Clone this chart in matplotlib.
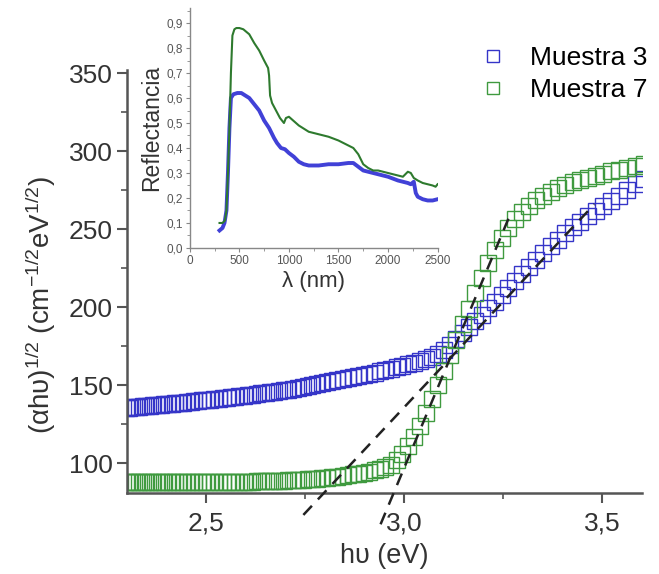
import numpy as np
import matplotlib
matplotlib.use("Agg")
import matplotlib.pyplot as plt
from matplotlib.ticker import MultipleLocator, FuncFormatter

plt.rcParams['font.family'] = ['Liberation Sans', 'DejaVu Sans']
plt.rcParams['mathtext.fontset'] = 'custom'
plt.rcParams['mathtext.rm'] = 'Liberation Sans'
plt.rcParams['mathtext.default'] = 'regular'

# photon energy (eV), one point per measured wavelength
hv = [2.296, 2.305, 2.313, 2.322, 2.331, 2.340, 2.348, 2.357, 2.366, 2.375,
      2.385, 2.394, 2.403, 2.412, 2.422, 2.431, 2.441, 2.451, 2.460, 2.470,
      2.480, 2.490, 2.500, 2.510, 2.520, 2.531, 2.541, 2.551, 2.562, 2.573,
      2.583, 2.594, 2.605, 2.616, 2.627, 2.638, 2.650, 2.661, 2.672, 2.684,
      2.696, 2.707, 2.719, 2.731, 2.743, 2.756, 2.768, 2.780, 2.793, 2.805,
      2.818, 2.831, 2.844, 2.857, 2.870, 2.884, 2.897, 2.911, 2.925, 2.938,
      2.952, 2.967, 2.981, 2.995, 3.010, 3.024, 3.039, 3.054, 3.069, 3.085,
      3.100, 3.116, 3.131, 3.147, 3.163, 3.179, 3.196, 3.212, 3.229, 3.246,
      3.263, 3.280, 3.298, 3.316, 3.333, 3.351, 3.370, 3.388, 3.407, 3.425,
      3.444, 3.464, 3.483, 3.503, 3.523, 3.543, 3.563, 3.584, 3.605]

muestra3 = [135.5, 135.8, 136.0, 136.2, 136.4, 136.6, 136.8, 137.0, 137.2, 137.4,
            137.6, 137.8, 138.0, 138.2, 138.5, 138.7, 139.0, 139.2, 139.5, 139.8,
            140.0, 140.3, 140.5, 140.8, 141.1, 141.4, 141.7, 142.0, 142.3, 142.7,
            143.0, 143.3, 143.7, 144.0, 144.4, 144.8, 145.2, 145.6, 146.0, 146.5,
            146.9, 147.3, 147.8, 148.4, 148.9, 149.5, 150.1, 150.7, 151.4, 152.0,
            152.7, 153.3, 154.0, 154.6, 155.3, 156.0, 156.7, 157.4, 158.2, 159.0,
            159.8, 160.7, 161.6, 162.5, 163.5, 164.5, 165.6, 166.8, 168.3, 170.3,
            172.8, 176.0, 179.8, 183.5, 187.3, 191.2, 195.3, 199.3, 203.5, 207.8,
            212.3, 216.8, 221.4, 226.0, 230.4, 234.8, 239.2, 243.4, 247.4, 251.2,
            254.8, 258.4, 261.6, 264.8, 268.0, 271.4, 275.0, 278.8, 282.5]

muestra7 = [87.8, 87.8, 87.8, 87.8, 87.8, 87.8, 87.8, 87.9, 87.9, 87.9,
            87.9, 87.9, 88.0, 88.0, 88.0, 88.0, 88.0, 88.0, 88.0, 88.1,
            88.1, 88.1, 88.1, 88.1, 88.1, 88.2, 88.2, 88.2, 88.2, 88.3,
            88.3, 88.3, 88.4, 88.4, 88.5, 88.5, 88.6, 88.7, 88.8, 88.9,
            89.0, 89.1, 89.2, 89.4, 89.6, 89.8, 90.0, 90.3, 90.6, 90.9,
            91.2, 91.6, 92.0, 92.4, 92.9, 93.5, 94.1, 94.8, 95.6, 96.5,
            97.6, 99.2, 102.0, 106.0, 111.0, 117.0, 124.0, 132.0, 141.0, 150.5,
            159.5, 169.5, 179.0, 189.0, 199.0, 209.0, 219.0, 228.5, 237.0, 244.5,
            251.0, 256.5, 261.0, 265.0, 268.5, 271.5, 274.0, 276.3, 278.3, 280.0,
            281.6, 283.0, 284.4, 285.7, 287.0, 288.2, 289.4, 290.5, 291.6]

# linear fits drawn as dashed lines (end points)
fit3_x = [2.745, 3.48]
fit3_y = [67.0, 266.0]
fit7_x = [2.94, 3.265]
fit7_y = [61.0, 258.0]

# inset: reflectance spectra
refl7_nm = [300, 330, 355, 370, 385, 400, 415, 430, 450, 470, 500, 540, 600, 650,
            700, 750, 790, 800, 810, 830, 870, 910, 950, 970, 1000, 1100, 1200,
            1300, 1400, 1500, 1600, 1650, 1700, 1750, 1800, 1850, 1900, 2000,
            2100, 2150, 2200, 2230, 2260, 2300, 2350, 2400, 2450, 2480, 2500]
refl7 = [0.10, 0.10, 0.11, 0.15, 0.30, 0.48, 0.70, 0.85, 0.875, 0.88, 0.88, 0.875,
         0.855, 0.82, 0.79, 0.75, 0.72, 0.69, 0.61, 0.58, 0.55, 0.52, 0.50, 0.52,
         0.525, 0.49, 0.465, 0.455, 0.445, 0.43, 0.41, 0.40, 0.375, 0.335, 0.32,
         0.31, 0.31, 0.30, 0.29, 0.285, 0.305, 0.30, 0.28, 0.27, 0.26, 0.255, 0.25,
         0.245, 0.255]
refl3_nm = [300, 330, 350, 370, 385, 400, 415, 440, 480, 520, 560, 600, 650, 700,
            750, 800, 850, 880, 920, 960, 1000, 1050, 1100, 1150, 1200, 1300, 1400,
            1500, 1600, 1650, 1700, 1750, 1800, 1900, 2000, 2100, 2150, 2200, 2230,
            2260, 2280, 2300, 2350, 2400, 2450, 2500]
refl3 = [0.07, 0.08, 0.10, 0.15, 0.30, 0.48, 0.60, 0.615, 0.62, 0.62, 0.61, 0.60,
         0.575, 0.55, 0.51, 0.48, 0.44, 0.42, 0.40, 0.395, 0.38, 0.365, 0.345, 0.335,
         0.33, 0.33, 0.335, 0.335, 0.34, 0.34, 0.325, 0.31, 0.305, 0.295, 0.285,
         0.27, 0.265, 0.26, 0.255, 0.265, 0.22, 0.205, 0.195, 0.19, 0.19, 0.195]

blue = '#3535c8'
green = '#3f9a3f'
grey = '#555555'
comma = FuncFormatter(lambda v, p: f'{v:.1f}'.replace('.', ','))

fig = plt.figure(figsize=(6.59, 5.74), dpi=100)
ax = fig.add_axes([0.193, 0.141, 0.781, 0.737])

l3, = ax.plot(hv, muestra3, 's', ms=11, mfc='none', mec=blue, mew=1.0, label='Muestra 3')
l7, = ax.plot(hv, muestra7, 's', ms=11, mfc='none', mec=green, mew=1.0, label='Muestra 7')
ax.plot(fit3_x, fit3_y, color='#222222', lw=1.8, dashes=(5, 3.5), clip_on=False, zorder=5)
ax.plot(fit7_x, fit7_y, color='#222222', lw=1.8, dashes=(5, 3.5), clip_on=False, zorder=5)

ax.set_xlim(2.3, 3.6)
ax.set_ylim(81, 352)
ax.xaxis.set_major_locator(MultipleLocator(0.5))
ax.xaxis.set_minor_locator(MultipleLocator(0.25))
ax.yaxis.set_major_locator(MultipleLocator(50))
ax.yaxis.set_minor_locator(MultipleLocator(25))
ax.xaxis.set_major_formatter(comma)
for s in ['top', 'right']:
    ax.spines[s].set_visible(False)
for s in ['left', 'bottom']:
    ax.spines[s].set_color(grey)
    ax.spines[s].set_linewidth(1.8)
ax.tick_params(which='major', length=7, width=1.5, color=grey, labelsize=19, labelcolor='#333333')
ax.tick_params(axis='x', which='major', pad=6)
ax.tick_params(which='minor', length=4, width=1.2, color=grey)
ax.set_xlabel('h\u03c5 (eV)', fontsize=19.5, color='#333333', labelpad=6)
ax.set_ylabel('(\u03b1h\u03c5)$^{1/2}$ (cm$^{-1/2}$eV$^{1/2}$)', fontsize=20,
              color='#333333')
ax.yaxis.set_label_coords(-0.135, 0.445)

ax.legend(handles=[l3, l7], loc='upper left', bbox_to_anchor=(477 / 659, 1 - 46 / 574),
          bbox_transform=fig.transFigure, frameon=False, fontsize=19, markerscale=0.85,
          handlelength=1.2, handletextpad=0.8, labelspacing=0.3, borderpad=0,
          borderaxespad=0)

# inset
ins = fig.add_axes([0.288, 0.568, 0.376, 0.418])
ins.patch.set_alpha(0)
ins.plot(refl3_nm, refl3, color='#2020d0', lw=2.8, alpha=0.85)
ins.plot(refl7_nm, refl7, color='#2e7a2e', lw=1.5)
ins.set_xlim(0, 2500)
ins.set_ylim(0, 0.96)
ins.xaxis.set_major_locator(MultipleLocator(500))
ins.xaxis.set_minor_locator(MultipleLocator(250))
ins.yaxis.set_major_locator(MultipleLocator(0.1))
ins.yaxis.set_minor_locator(MultipleLocator(0.05))
ins.yaxis.set_major_formatter(comma)
for s in ['top', 'right']:
    ins.spines[s].set_visible(False)
for s in ['left', 'bottom']:
    ins.spines[s].set_color('#888888')
    ins.spines[s].set_linewidth(1.0)
ins.tick_params(which='major', length=3, width=0.8, color='#888888', labelsize=8.5,
                labelcolor='#555555', pad=2)
ins.tick_params(which='minor', length=2, width=0.6, color='#888888')
ins.set_xlabel('\u03bb (nm)', fontsize=16, color='#333333', labelpad=3)
ins.set_ylabel('Reflectancia', fontsize=16.5, color='#333333', labelpad=2)

fig.savefig('out.png', dpi=100)
